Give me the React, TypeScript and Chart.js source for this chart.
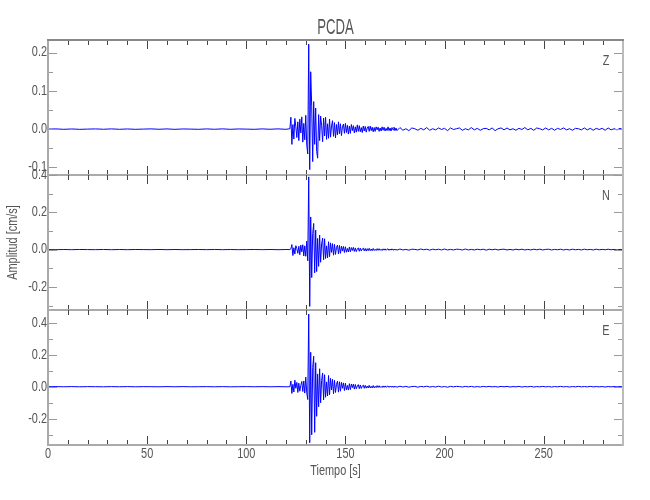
import { useEffect, useRef } from 'react';
import { Chart, registerables } from 'chart.js';

Chart.register(...registerables);

const FONT = '"Liberation Sans", Arial, sans-serif';

const TITLE = 'PCDA';
const X_LABEL = 'Tiempo [s]';
const Y_LABEL = 'Amplitud [cm/s]';
const X_MIN = 0;
const X_MAX = 290;
const X_MAJOR = 50;
const X_MINOR = 10;

// sampling grid of each record segment (s)
const PRE_START = 0;
const PRE_STEP = 4;
const EVENT_START = 122;
const EVENT_STEP = 0.5;
const CODA_START = 177.5;
const CODA_STEP = 1.5;

// ---------- Z component (cm/s) ----------
const Z_PRE = [
  0.0000, 0.0005, -0.0005, 0.0004, -0.0006, 0.0000, 0.0005, -0.0004, 0.0006, -0.0005,
  0.0004, -0.0005, 0.0000, 0.0006, -0.0004, 0.0005, -0.0006, 0.0004, 0.0000, -0.0005,
  0.0005, -0.0004, 0.0006, -0.0005, 0.0004, 0.0000, -0.0005, 0.0005, -0.0004, 0.0006,
  -0.0005,
];
const Z_EVENT = [
  0.001, 0.031, -0.040, 0.012, -0.026, 0.028, 0.006, -0.022, 0.019, -0.030,
  0.026, -0.010, 0.032, -0.034, 0.015, -0.028, 0.036, -0.042, -0.065, 0.222,
  -0.106, 0.150, 0.060, -0.085, 0.072, -0.040, 0.055, -0.058, -0.076, 0.038,
  -0.030, 0.034, 0.010, -0.033, 0.029, -0.018, 0.031, -0.027, 0.014, -0.024,
  0.026, -0.021, 0.008, 0.022, -0.019, 0.017, -0.023, 0.012, -0.015, 0.019,
  -0.012, 0.014, -0.017, 0.006, 0.013, -0.011, 0.015, -0.009, 0.010, -0.013,
  0.008, -0.011, 0.012, -0.004, 0.009, -0.010, 0.006, -0.008, 0.011, -0.006,
  0.009, -0.007, 0.004, -0.009, 0.008, -0.005, 0.007, -0.008, 0.003, 0.007,
  -0.006, 0.008, -0.004, 0.005, -0.007, 0.004, -0.006, 0.006, -0.002, 0.005,
  -0.006, 0.003, -0.005, 0.006, -0.003, 0.005, -0.005, 0.002, -0.004, 0.006,
  -0.004, 0.003, -0.005, 0.004, -0.002, 0.005, -0.004, 0.003, -0.004,
];
const Z_CODA = [
  0.004, -0.003, 0.001, -0.004, 0.003, 0.001, -0.003, 0.002, -0.002, 0.004,
  -0.003, 0.001, -0.002, 0.003, -0.001, 0.002, -0.004, 0.003, -0.001, 0.001,
  0.003, -0.003, 0.001, -0.002, 0.004, -0.002, 0.002, -0.003, 0.001, 0.002,
  -0.002, 0.003, -0.004, 0.001, 0.003, -0.002, 0.003, -0.002, 0.001, -0.003,
  0.002, -0.001, 0.004, -0.002, 0.002, -0.003, 0.003, 0.001, -0.002, 0.003,
  -0.002, 0.002, -0.003, 0.002, -0.001, 0.003, -0.002, 0.001, -0.003, 0.002,
  0.001, -0.002, 0.003, -0.002, 0.002, -0.003, 0.002, -0.001, 0.002, -0.003,
  0.003, -0.002, 0.001, -0.002, 0.002, -0.002,
];

// ---------- N component (cm/s) ----------
const N_PRE = [
  0.0000, -0.0005, 0.0004, -0.0005, 0.0006, 0.0000, -0.0004, 0.0005, -0.0006, 0.0004,
  -0.0005, 0.0005, 0.0000, -0.0004, 0.0006, -0.0005, 0.0004, -0.0005, 0.0000, 0.0005,
  -0.0004, 0.0006, -0.0005, 0.0004, -0.0005, 0.0000, 0.0005, -0.0004, 0.0005, -0.0006,
  0.0004,
];
const N_EVENT = [
  0.000, 0.004, 0.027, -0.032, 0.010, -0.024, 0.021, 0.005, -0.020, 0.018,
  -0.028, 0.024, -0.012, 0.026, -0.034, 0.020, -0.036, 0.045, -0.060, 0.390,
  -0.305, 0.175, -0.150, 0.085, 0.140, -0.125, 0.105, -0.118, 0.060, -0.090,
  0.078, -0.068, 0.030, 0.062, -0.055, 0.058, -0.048, 0.020, -0.044, 0.042,
  -0.038, 0.036, -0.015, 0.032, -0.030, 0.028, -0.026, 0.012, 0.024, -0.024,
  0.022, -0.020, 0.018, -0.008, 0.017, -0.016, 0.015, -0.014, 0.006, -0.013,
  0.014, -0.012, 0.011, -0.005, 0.012, -0.010, 0.009, -0.011, 0.004, 0.009,
  -0.009, 0.008, -0.008, 0.003, 0.008, -0.007, 0.006, -0.008, 0.005, -0.006,
  0.007, -0.006, 0.003, -0.006, 0.006, -0.005, 0.002, -0.005, 0.005, -0.004,
  0.005, -0.004, 0.002, -0.005, 0.004, -0.003, 0.004, -0.004, 0.002, 0.004,
  -0.004, 0.003, -0.003, 0.004, -0.002, 0.003, -0.003, 0.002, -0.003,
];
const N_CODA = [
  0.003, -0.002, 0.001, -0.003, 0.002, 0.001, -0.002, 0.003, -0.001, 0.002,
  -0.003, 0.002, -0.001, 0.002, -0.002, 0.003, -0.002, 0.001, -0.002, 0.002,
  0.001, -0.002, 0.003, -0.002, 0.001, -0.002, 0.002, -0.001, 0.002, -0.003,
  0.002, -0.001, 0.002, -0.002, 0.001, 0.002, -0.002, 0.001, -0.002, 0.002,
  -0.001, 0.002, -0.002, 0.001, -0.002, 0.002, -0.001, 0.002, -0.002, 0.001,
  0.002, -0.002, 0.001, -0.001, 0.002, -0.002, 0.001, -0.002, 0.002, -0.001,
  0.001, -0.002, 0.002, -0.001, 0.001, -0.002, 0.002, -0.001, 0.001, -0.001,
  0.002, -0.001, 0.001, -0.002, 0.001, -0.001,
];

// ---------- E component (cm/s) ----------
const E_PRE = [
  0.0000, 0.0005, -0.0004, 0.0006, -0.0005, 0.0004, 0.0000, -0.0005, 0.0005, -0.0004,
  0.0006, -0.0005, 0.0004, 0.0000, -0.0005, 0.0005, -0.0004, 0.0006, -0.0005, 0.0000,
  0.0004, -0.0005, 0.0005, -0.0006, 0.0000, 0.0005, -0.0004, 0.0005, -0.0005, 0.0004,
  -0.0005,
];
const E_EVENT = [
  0.000, 0.036, -0.042, 0.015, -0.033, 0.041, -0.010, 0.027, -0.036, 0.022,
  -0.028, 0.008, 0.033, -0.030, 0.036, -0.040, 0.060, -0.038, -0.080, 0.454,
  -0.350, 0.215, -0.300, 0.120, 0.190, -0.285, 0.150, -0.185, 0.080, -0.125,
  0.112, -0.100, 0.040, 0.086, -0.082, 0.075, -0.066, 0.030, -0.058, 0.070,
  -0.050, 0.052, -0.020, 0.046, -0.044, 0.040, -0.036, 0.015, 0.034, -0.034,
  0.031, -0.028, 0.027, -0.010, 0.024, -0.024, 0.022, -0.020, 0.008, -0.021,
  0.019, -0.018, 0.017, -0.006, 0.016, -0.015, 0.014, -0.013, 0.005, 0.013,
  -0.012, 0.011, -0.011, 0.004, 0.010, -0.010, 0.009, -0.009, 0.004, -0.008,
  0.009, -0.008, 0.003, -0.008, 0.007, -0.007, 0.003, -0.006, 0.007, -0.005,
  0.006, -0.005, 0.002, -0.005, 0.005, -0.004, 0.005, -0.004, 0.002, 0.004,
  -0.004, 0.004, -0.003, 0.003, -0.002, 0.003, -0.003, 0.002, -0.003,
];
const E_CODA = [
  0.003, -0.002, 0.002, -0.003, 0.001, 0.002, -0.003, 0.002, -0.001, 0.003,
  -0.002, 0.001, -0.002, 0.003, -0.002, 0.001, -0.003, 0.002, -0.001, 0.002,
  0.001, -0.002, 0.002, -0.001, 0.002, -0.002, 0.001, -0.002, 0.002, -0.001,
  0.002, -0.001, 0.001, -0.002, 0.002, -0.001, 0.002, -0.002, 0.001, -0.001,
  0.002, -0.002, 0.001, -0.001, 0.002, -0.002, 0.001, -0.001, 0.002, -0.001,
  0.001, -0.002, 0.001, -0.001, 0.002, -0.001, 0.001, -0.002, 0.001, -0.001,
  0.002, -0.001, 0.001, -0.001, 0.002, -0.001, 0.001, -0.001, 0.001, -0.002,
  0.001, -0.001, 0.001, -0.001, 0.001, -0.001,
];

const PANEL_NAMES = ['Z', 'N', 'E'];
const PANEL_MIN = [-0.12, -0.324, -0.364];
const PANEL_MAX = [0.233, 0.4, 0.479];
const PANEL_MAJOR = [0.1, 0.2, 0.2];
const PANEL_MINOR = [0.05, 0.1, 0.1];
const PANEL_PRE = [Z_PRE, N_PRE, E_PRE];
const PANEL_EVENT = [Z_EVENT, N_EVENT, E_EVENT];
const PANEL_CODA = [Z_CODA, N_CODA, E_CODA];

function buildSeries(pre: number[], ev: number[], coda: number[]) {
  const pts: { x: number; y: number }[] = [];
  pre.forEach((v, i) => pts.push({ x: PRE_START + i * PRE_STEP, y: v }));
  ev.forEach((v, i) => pts.push({ x: EVENT_START + i * EVENT_STEP, y: v }));
  coda.forEach((v, i) => pts.push({ x: CODA_START + i * CODA_STEP, y: v }));
  return pts;
}

const fmt = (v: number) => (Math.abs(v) < 1e-9 ? '0.0' : Number(v).toFixed(1));

// narrow, tall text (Hershey-like look)
function narrowText(
  ctx: CanvasRenderingContext2D,
  text: string,
  x: number,
  y: number,
  size: number,
  sx: number,
  align: CanvasTextAlign,
  rot = 0,
) {
  ctx.save();
  ctx.translate(x, y);
  if (rot) ctx.rotate(rot);
  ctx.scale(sx, 1);
  ctx.font = size + 'px ' + FONT;
  ctx.textAlign = align;
  ctx.textBaseline = 'middle';
  ctx.fillText(text, 0, 0);
  ctx.restore();
}

const TEXT_COLOR = '#555';

const framePlugin = {
  id: 'seisFrame',
  afterDatasetsDraw(chart: any) {
    const { ctx, chartArea: ca } = chart;
    const xs = chart.scales.x;
    ctx.save();
    PANEL_NAMES.forEach((name, idx) => {
      const ys = chart.scales['y' + name];
      const top = ys.top;
      const bot = ys.bottom;
      // x ticks (inward) on top and bottom of each panel
      ctx.strokeStyle = '#444';
      ctx.lineWidth = 1;
      ctx.beginPath();
      const kx0 = Math.ceil(X_MIN / X_MINOR);
      const kx1 = Math.floor(X_MAX / X_MINOR);
      for (let k = kx0; k <= kx1; k++) {
        const v = k * X_MINOR;
        const px = Math.round(xs.getPixelForValue(v)) + 0.5;
        const major = Math.abs(v / X_MAJOR - Math.round(v / X_MAJOR)) < 1e-6;
        const len = major ? 9 : 5;
        ctx.moveTo(px, top);
        ctx.lineTo(px, top + len);
        ctx.moveTo(px, bot);
        ctx.lineTo(px, bot - len);
      }
      ctx.stroke();
      // y ticks (inward) on left and right
      ctx.strokeStyle = '#999';
      ctx.beginPath();
      const mn = PANEL_MINOR[idx];
      const mj = PANEL_MAJOR[idx];
      const k0 = Math.ceil(ys.min / mn - 1e-6);
      const k1 = Math.floor(ys.max / mn + 1e-6);
      for (let k = k0; k <= k1; k++) {
        const v = k * mn;
        const py = Math.round(ys.getPixelForValue(v)) + 0.5;
        const major = Math.abs(v / mj - Math.round(v / mj)) < 1e-6;
        const len = major ? 9 : 5;
        ctx.moveTo(ca.left, py);
        ctx.lineTo(ca.left + len, py);
        ctx.moveTo(ca.right, py);
        ctx.lineTo(ca.right - len, py);
      }
      ctx.stroke();
      // panel separator / bottom line
      ctx.strokeStyle = '#aaa';
      ctx.lineWidth = 2;
      ctx.beginPath();
      ctx.moveTo(ca.left, bot);
      ctx.lineTo(ca.right + 1, bot);
      ctx.stroke();
      // y tick labels from the scale's own ticks
      ctx.fillStyle = TEXT_COLOR;
      ys.ticks.forEach((t: any) => {
        narrowText(ctx, fmt(t.value), ca.left - 1, ys.getPixelForValue(t.value), 14, 0.78, 'right');
      });
      // component label
      narrowText(ctx, name, ca.right - 17, top + 21, 14, 0.78, 'center');
      if (name === 'N') {
        narrowText(ctx, Y_LABEL, 13.5, (chart.scales.yZ.top + chart.scales.yE.bottom) / 2, 14, 0.78, 'center', -Math.PI / 2);
      }
    });
    // x tick labels
    ctx.fillStyle = TEXT_COLOR;
    xs.ticks.forEach((t: any) => {
      narrowText(ctx, String(t.value), xs.getPixelForValue(t.value), ca.bottom + 9, 14, 0.78, 'center');
    });
    narrowText(ctx, X_LABEL, (ca.left + ca.right) / 2, ca.bottom + 26, 14, 0.78, 'center');
    narrowText(ctx, TITLE, (ca.left + ca.right) / 2, ca.top - 12, 22, 0.6, 'center');
    // outer frame
    ctx.lineWidth = 2;
    ctx.strokeStyle = '#aaa';
    ctx.beginPath();
    ctx.moveTo(ca.left, ca.top);
    ctx.lineTo(ca.left, ca.bottom + 1);
    ctx.stroke();
    ctx.strokeStyle = '#bbb';
    ctx.beginPath();
    ctx.moveTo(ca.right, ca.top);
    ctx.lineTo(ca.right, ca.bottom + 1);
    ctx.stroke();
    ctx.strokeStyle = '#888';
    ctx.beginPath();
    ctx.moveTo(ca.left - 1, ca.top);
    ctx.lineTo(ca.right + 1, ca.top);
    ctx.stroke();
    ctx.restore();
  },
};

export default function App() {
  const ref = useRef<HTMLCanvasElement>(null);

  useEffect(() => {
    document.body.style.margin = '0';
    const yScales: any = {};
    PANEL_NAMES.forEach((name, idx) => {
      yScales['y' + name] = {
        type: 'linear',
        position: 'left',
        stack: 'seis',
        stackWeight: 1,
        weight: 3 - idx,
        min: PANEL_MIN[idx],
        max: PANEL_MAX[idx],
        grid: { display: false, drawTicks: false },
        border: { display: false },
        ticks: {
          display: false,
          stepSize: PANEL_MAJOR[idx],
          includeBounds: false,
          autoSkip: false,
        },
        afterFit: (s: any) => {
          s.width = 48;
        },
      };
    });

    const datasets = PANEL_NAMES.map((name, idx) => ({
      label: name,
      yAxisID: 'y' + name,
      data: buildSeries(PANEL_PRE[idx], PANEL_EVENT[idx], PANEL_CODA[idx]),
      borderColor: '#0000ff',
      borderWidth: 1,
      pointRadius: 0,
      tension: 0,
      fill: false,
    }));

    const chart = new Chart(ref.current as HTMLCanvasElement, {
      type: 'line',
      data: { datasets },
      options: {
        animation: false,
        responsive: true,
        maintainAspectRatio: false,
        layout: { padding: { left: 0, right: 27, top: 40, bottom: 0 } },
        plugins: {
          legend: { display: false },
          tooltip: { enabled: false },
          title: { display: false },
        },
        scales: {
          x: {
            type: 'linear',
            position: 'bottom',
            min: X_MIN,
            max: X_MAX,
            grid: { display: false, drawTicks: false },
            border: { display: false },
            ticks: {
              display: false,
              stepSize: X_MAJOR,
              includeBounds: false,
              autoSkip: false,
            },
            afterFit: (s: any) => {
              s.height = 55;
            },
          },
          ...yScales,
        },
      } as any,
      plugins: [framePlugin],
    });
    return () => chart.destroy();
  }, []);

  return (
    <div style={{ position: 'relative', width: 650, height: 500 }}>
      <canvas ref={ref} />
    </div>
  );
}
